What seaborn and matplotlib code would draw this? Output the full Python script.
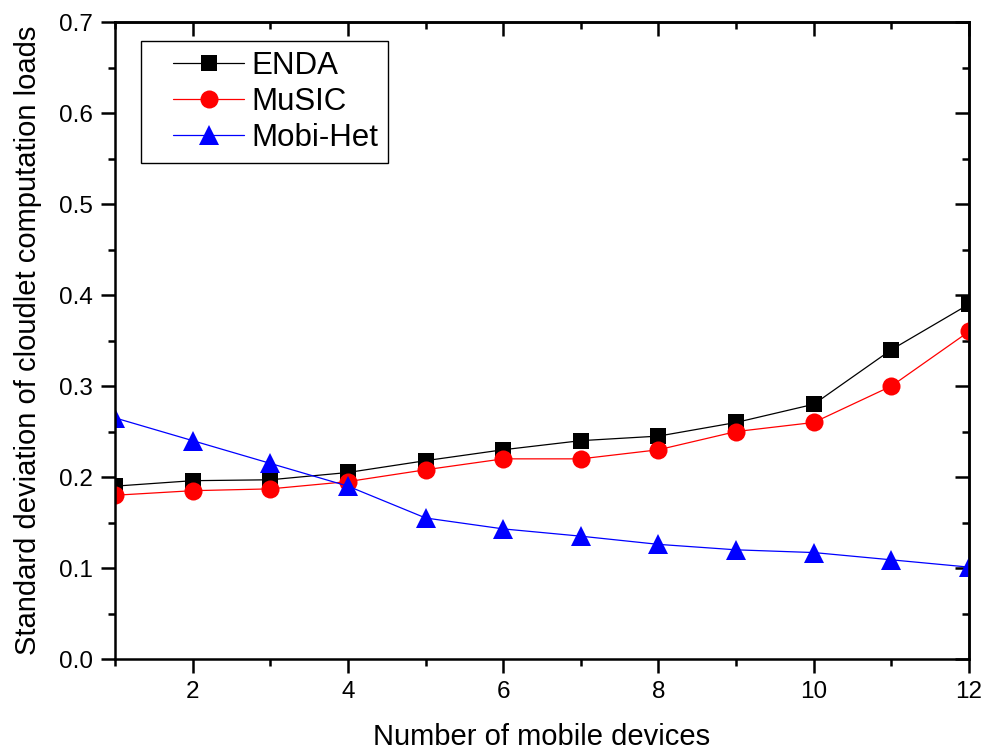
import numpy as np
import pandas as pd
import seaborn as sns
import matplotlib.pyplot as plt
from matplotlib.ticker import MultipleLocator
from matplotlib.legend_handler import HandlerLine2D

devices = list(range(1, 13))
enda = [0.190, 0.196, 0.197, 0.205, 0.218, 0.230, 0.240, 0.245, 0.260, 0.280, 0.340, 0.390]
music = [0.180, 0.185, 0.187, 0.195, 0.208, 0.220, 0.220, 0.230, 0.250, 0.260, 0.300, 0.360]
mobihet = [0.265, 0.240, 0.215, 0.190, 0.155, 0.143, 0.135, 0.126, 0.120, 0.117, 0.109, 0.101]

series_names = ['ENDA', 'MuSIC', 'Mobi-Het']
colors = ['black', 'red', 'blue']
markers = ['s', 'o', '^']
msizes = [12, 13, 14]

df = pd.DataFrame({
    'devices': devices * 3,
    'value': enda + music + mobihet,
    'method': [n for n in series_names for _ in devices],
})

sns.set_style('ticks')
plt.rcParams['font.family'] = ['Liberation Sans', 'DejaVu Sans']
for k in ['text.color', 'axes.labelcolor', 'xtick.color', 'ytick.color', 'axes.edgecolor']:
    plt.rcParams[k] = 'black'

fig = plt.figure(figsize=(9.85, 7.51), dpi=100)
ax = fig.add_axes([0.1168, 0.1225, 0.867, 0.848])

for name, c, m, ms in zip(series_names, colors, markers, msizes):
    sns.lineplot(data=df[df['method'] == name], x='devices', y='value', color=c,
                 marker=m, markersize=ms, linewidth=0.9, markeredgewidth=0,
                 ax=ax, label=name)

ax.set_xlim(1, 12)
ax.set_ylim(0, 0.7)
ax.xaxis.set_major_locator(MultipleLocator(2))
ax.xaxis.set_minor_locator(MultipleLocator(1))
ax.yaxis.set_major_locator(MultipleLocator(0.1))
ax.yaxis.set_minor_locator(MultipleLocator(0.05))
ax.yaxis.set_major_formatter(plt.FormatStrFormatter('%.1f'))
ax.tick_params(which='major', length=10, width=1.8, labelsize=17.5, direction='out', pad=6)
ax.tick_params(which='minor', length=5, width=1.8, direction='out')
for s in ax.spines.values():
    s.set_linewidth(1.8)
    s.set_visible(True)

# mirrored ticks pointing inward on top and right
top = ax.secondary_xaxis('top')
top.xaxis.set_major_locator(MultipleLocator(2))
top.xaxis.set_minor_locator(MultipleLocator(1))
top.tick_params(which='major', direction='in', length=10, width=1.8, labeltop=False)
top.tick_params(which='minor', direction='in', length=5, width=1.8)
top.spines['top'].set_linewidth(1.8)
right = ax.secondary_yaxis('right')
right.yaxis.set_major_locator(MultipleLocator(0.1))
right.yaxis.set_minor_locator(MultipleLocator(0.05))
right.tick_params(which='major', direction='in', length=10, width=1.8, labelright=False)
right.tick_params(which='minor', direction='in', length=5, width=1.8)
right.spines['right'].set_linewidth(1.8)

ax.set_xlabel('Number of mobile devices', fontsize=21, labelpad=14)
ax.set_ylabel('Standard deviation of cloudlet computation loads', fontsize=21, labelpad=12)

handles, labels = ax.get_legend_handles_labels()
leg = ax.legend(handles, labels, loc='upper left', bbox_to_anchor=(0.03, 0.97),
                fontsize=22.5, frameon=True, fancybox=False, edgecolor='black',
                handlelength=3.0, borderpad=0.3, labelspacing=0.2, handletextpad=0.25,
                borderaxespad=0,
                handler_map={h: HandlerLine2D(xpad=0.75) for h in handles})
leg.get_frame().set_linewidth(1.0)
leg.get_frame().set_alpha(1)

fig.savefig('out.png', dpi=100)
